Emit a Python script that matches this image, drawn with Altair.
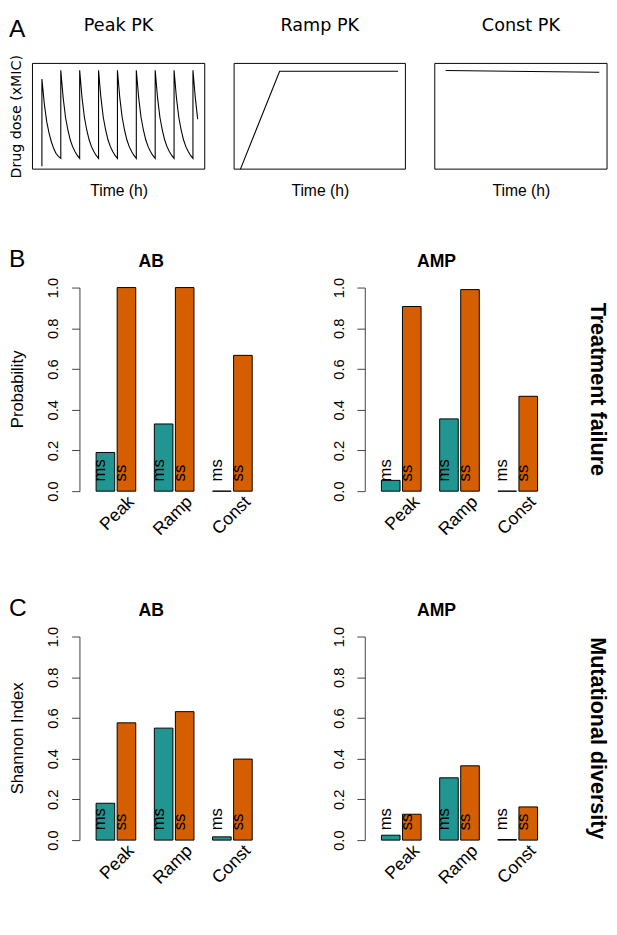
import altair as alt
import pandas as pd

# ---------------- data ----------------
strategies = ["Peak", "Ramp", "Const"]
subpops = ["ms", "ss"]

failure_AB_ms = [0.19, 0.33, 0.0]
failure_AB_ss = [1.0, 1.0, 0.667]
failure_AMP_ms = [0.053, 0.355, 0.0]
failure_AMP_ss = [0.907, 0.99, 0.466]

diversity_AB_ms = [0.181, 0.55, 0.016]
diversity_AB_ss = [0.576, 0.631, 0.398]
diversity_AMP_ms = [0.024, 0.306, 0.003]
diversity_AMP_ss = [0.127, 0.365, 0.163]

y_ticks = [0.0, 0.2, 0.4, 0.6, 0.8, 1.0]

pk_time_range = [0, 73]
dose_range = [0, 10.8]

peak_time = [4, 4, 5, 6, 7, 8, 9, 10, 11, 12,
             12, 13, 14, 15, 16, 17, 18, 19, 20,
             20, 21, 22, 23, 24, 25, 26, 27, 28,
             28, 29, 30, 31, 32, 33, 34, 35, 36,
             36, 37, 38, 39, 40, 41, 42, 43, 44,
             44, 45, 46, 47, 48, 49, 50, 51, 52,
             52, 53, 54, 55, 56, 57, 58, 59, 60,
             60, 61, 62, 63, 64, 65, 66, 67, 68,
             68, 69, 70]
peak_dose = [0.3, 9.2, 6.7, 4.9, 3.7, 2.8, 2.1, 1.6, 1.3, 1.1,
             10.1, 7.3, 5.3, 4.0, 3.0, 2.3, 1.8, 1.4, 1.1,
             10.1, 7.3, 5.3, 4.0, 3.0, 2.3, 1.8, 1.4, 1.1,
             10.1, 7.3, 5.3, 4.0, 3.0, 2.3, 1.8, 1.4, 1.1,
             10.1, 7.3, 5.3, 4.0, 3.0, 2.3, 1.8, 1.4, 1.1,
             10.1, 7.3, 5.3, 4.0, 3.0, 2.3, 1.8, 1.4, 1.1,
             10.1, 7.3, 5.3, 4.0, 3.0, 2.3, 1.8, 1.4, 1.1,
             10.1, 7.3, 5.3, 4.0, 3.0, 2.3, 1.8, 1.4, 1.1,
             10.1, 7.3, 5.1]

ramp_time = [2.7, 19.4, 69.9]
ramp_dose = [0.0, 10.0, 10.0]

const_time = [4.6, 69.7]
const_dose = [10.07, 9.9]

# ---------------- styling ----------------
TEAL = "#21958F"
ORANGE = "#D55E00"
AXIS_GREY = "#404040"
SANS = "Liberation Sans"
DEJAVU = "DejaVu Sans"
BAR_W = 193.5
BAR_H = 208


def text_layer(label, x, y, size, weight="normal", angle=0, align="left",
               baseline="alphabetic", font=SANS):
    return alt.Chart(pd.DataFrame({"label": [label]})).mark_text(
        font=font, fontSize=size, fontWeight=weight, angle=angle,
        align=align, baseline=baseline, color="black"
    ).encode(text="label:N", x=alt.value(x), y=alt.value(y))


def pk_panel(t, d, title, width, with_y_title=False, letter=None):
    xs = alt.Scale(domain=pk_time_range, nice=False, zero=False)
    ys = alt.Scale(domain=dose_range, nice=False, zero=False)
    x_axis = alt.Axis(title="Time (h)", labels=False, ticks=False, domain=False,
                      grid=False, titleX=width / 2, titleY=27, titleAlign="center",
                      titleBaseline="alphabetic", titleFont=SANS, titleFontSize=16,
                      titleFontWeight="normal", titleColor="black")
    if with_y_title:
        y_axis = alt.Axis(title="Drug dose (xMIC)", labels=False, ticks=False,
                          domain=False, grid=False, titleX=-23, titleY=54,
                          titleAngle=270, titleAlign="center", titleBaseline="top",
                          titleFont=DEJAVU, titleFontSize=14.5,
                          titleFontWeight="normal", titleColor="black")
        y_box = alt.Y("d0:Q", scale=ys)
    else:
        y_axis = None
        y_box = alt.Y("d0:Q", scale=ys, axis=None)
    df = pd.DataFrame({"time": t, "dose": d, "idx": list(range(len(t)))})
    box_df = pd.DataFrame({"t0": [pk_time_range[0]], "t1": [pk_time_range[1]],
                           "d0": [dose_range[0]], "d1": [dose_range[1]]})
    line = alt.Chart(df).mark_line(color="black", strokeWidth=1.1).encode(
        x=alt.X("time:Q", scale=xs, axis=x_axis),
        y=alt.Y("dose:Q", scale=ys, axis=y_axis),
        order="idx:Q")
    box = alt.Chart(box_df).mark_rect(filled=False, stroke="black", strokeWidth=1).encode(
        x=alt.X("t0:Q", scale=xs), x2="t1:Q", y=y_box, y2="d1:Q")
    layers = [line, box,
              text_layer(title, width / 2, -33, 18, align="center", font=DEJAVU)]
    if letter:
        layers.append(text_layer(letter, -24, -27, 25))
    return alt.layer(*layers).properties(width=width, height=108)


def lead_panel(letter, y_title):
    # panel letter and y-axis title of a bar row
    return alt.layer(
        text_layer(letter, -24, -21, 25),
        text_layer(y_title, -23, BAR_H / 2, 17, angle=270, align="center",
                   baseline="top"),
    ).properties(width=1, height=BAR_H)


def bar_panel(ms_vals, ss_vals, title, side=None):
    df = pd.DataFrame({
        "strategy": strategies * 2,
        "subpop": ["ms"] * 3 + ["ss"] * 3,
        "value": ms_vals + ss_vals,
        "base": [0.0] * 6,
    })
    xs = alt.Scale(domain=strategies, paddingInner=0.319, paddingOuter=0.286)
    xos = alt.Scale(domain=subpops, paddingInner=0.116, paddingOuter=0)
    ys = alt.Scale(domain=[0, 1], nice=False, zero=True)
    x_axis = alt.Axis(title=None, labelAngle=315, labelAlign="right",
                      labelBaseline="middle", labelPadding=8, labelOffset=16,
                      ticks=False, tickSize=0, domain=False, grid=False,
                      labelFont=SANS, labelFontSize=18, labelColor="black")
    y_axis = alt.Axis(title=None, values=y_ticks, format=".1f", labelAngle=270,
                      labelAlign="center", labelBaseline="alphabetic", labelPadding=14,
                      tickSize=8, grid=False, domainColor=AXIS_GREY, tickColor=AXIS_GREY,
                      labelColor="black", labelFont=SANS, labelFontSize=15,
                      labelOverlap=False)
    bars = alt.Chart(df).mark_bar(stroke="black", strokeWidth=1).encode(
        x=alt.X("strategy:N", sort=strategies, scale=xs, axis=x_axis),
        xOffset=alt.XOffset("subpop:N", sort=subpops, scale=xos),
        y=alt.Y("value:Q", scale=ys, axis=y_axis),
        color=alt.Color("subpop:N", scale=alt.Scale(domain=subpops, range=[TEAL, ORANGE]),
                        legend=None))
    labels = alt.Chart(df).mark_text(
        angle=270, align="left", baseline="alphabetic", dx=10, dy=0,
        font=SANS, fontSize=17, color="black"
    ).encode(
        x=alt.X("strategy:N", sort=strategies, scale=xs),
        xOffset=alt.XOffset("subpop:N", sort=subpops, scale=xos),
        y=alt.Y("base:Q", scale=ys),
        text="subpop:N")
    layers = [bars, labels,
              text_layer(title, BAR_W / 2 - 23.5, -21, 18, weight="bold", align="center")]
    if side:
        layers.append(text_layer(side, 238, BAR_H / 2, 22, weight="bold", angle=90,
                                 align="center", baseline="middle"))
    return alt.layer(*layers).properties(width=BAR_W, height=BAR_H)


peak = pk_panel(peak_time, peak_dose, "Peak PK", 176, with_y_title=True, letter="A")
ramp = pk_panel(ramp_time, ramp_dose, "Ramp PK", 175)
const = pk_panel(const_time, const_dose, "Const PK", 176)

b_ab = bar_panel(failure_AB_ms, failure_AB_ss, "AB")
b_amp = bar_panel(failure_AMP_ms, failure_AMP_ss, "AMP", side="Treatment failure")
c_ab = bar_panel(diversity_AB_ms, diversity_AB_ss, "AB")
c_amp = bar_panel(diversity_AMP_ms, diversity_AMP_ss, "AMP", side="Mutational diversity")

row_a = alt.hconcat(peak, ramp, const, spacing=28)
row_b = alt.hconcat(lead_panel("B", "Probability"),
                    alt.hconcat(b_ab, b_amp, spacing=62.5), spacing=12)
row_c = alt.hconcat(lead_panel("C", "Shannon Index"),
                    alt.hconcat(c_ab, c_amp, spacing=62.5), spacing=12)
rows_bc = alt.vconcat(row_b, row_c, spacing=58.5)

chart = alt.vconcat(row_a, rows_bc, spacing=50).properties(
    padding=0
).configure(font=SANS).configure_view(strokeWidth=0)

chart.save("out.html", embed_options={"renderer": "svg", "actions": False})
